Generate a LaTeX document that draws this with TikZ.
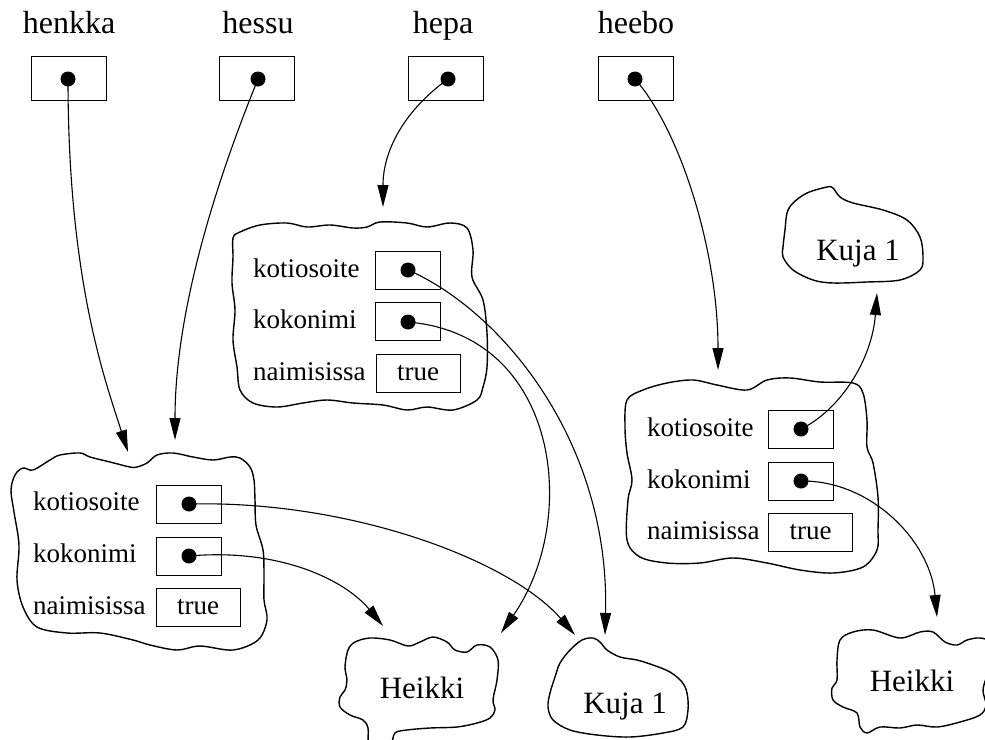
\documentclass[tikz,border=0pt]{standalone}
\usepackage{fontspec}
\setmainfont{Liberation Serif}
\usetikzlibrary{arrows.meta}
\begin{document}
\begin{tikzpicture}[x=1pt,y=-1pt,
  varname/.style={font=\fontsize{32}{36}\selectfont, anchor=base, inner sep=0pt},
  field/.style={font=\fontsize{27}{30}\selectfont, anchor=base west, inner sep=0pt},
  refbox/.style={draw, line width=1pt, minimum width=75pt, minimum height=44pt, inner sep=0pt},
  slot/.style={draw, line width=1pt, minimum width=65pt, minimum height=38pt, inner sep=0pt},
  valbox/.style={draw, line width=1pt, minimum width=84pt, minimum height=38pt, inner sep=0pt,
    font=\fontsize{27}{30}\selectfont},
  ptrdot/.style={circle, fill, inner sep=0pt, minimum size=15pt},
  blob/.style={draw, line width=1.4pt},
  blobtext/.style={font=\fontsize{31}{34}\selectfont, anchor=base, inner sep=0pt},
  ptr/.style={-{Triangle[length=22pt,width=11pt]}, line width=1.1pt},
]
\useasboundingbox (0,0) rectangle (985,739);
\begin{scope}
\clip (0,0) rectangle (985,739);

% ---------- variable names and their reference boxes ----------
\node[varname] (n-henkka) at (69,33)  {henkka};
\node[varname] (n-hessu)  at (258,33) {hessu};
\node[varname] (n-hepa)   at (443,33) {hepa};
\node[varname] (n-heebo)  at (636,33) {heebo};

\node[refbox] (b-henkka) at (68.5,78) {};
\node[refbox] (b-hessu)  at (257,78)  {};
\node[refbox] (b-hepa)   at (446,78)  {};
\node[refbox] (b-heebo)  at (635.5,78) {};

\node[ptrdot] (d-henkka) at (68,79)  {};
\node[ptrdot] (d-hessu)  at (258,79) {};
\node[ptrdot] (d-hepa)   at (448,79) {};
\node[ptrdot] (d-heebo)  at (635,79) {};

% ---------- object outlines ----------
% object shared by henkka and hessu
\draw[blob] plot[smooth cycle, tension=0.55] coordinates {
  (15,475) (23,468) (33,470) (50,460) (60,455) (80,453) (90,457) (110,462) (130,467)
  (137,467) (147,463) (157,455) (173,453) (193,457) (213,460) (230,457) (240,458)
  (250,467) (254,480) (255,500) (256,525) (263,550) (264,575) (264,600) (267,620)
  (258,640) (233,650) (200,646) (177,650) (150,645) (133,640) (100,633) (67,633)
  (37,627) (23,607) (17,580) (19,545) (14,512) (11,490)};
% object of hepa
\draw[blob] plot[smooth cycle, tension=0.55] coordinates {
  (233,238) (240,232) (260,225) (287,223) (307,227) (330,225) (353,228) (367,227)
  (380,222) (407,223) (427,227) (450,223) (467,228) (473,250) (472,277) (483,300)
  (487,333) (487,367) (483,387) (477,400) (453,410) (427,407) (407,410) (383,405)
  (353,403) (327,400) (303,403) (277,407) (253,403) (240,390) (237,367) (233,340)
  (235,310) (232,283) (233,257)};
% object of heebo
\draw[blob] plot[smooth cycle, tension=0.55] coordinates {
  (627,400) (643,390) (667,383) (693,380) (717,385) (747,390) (767,380) (790,378)
  (820,382) (853,383) (863,393) (867,420) (867,447) (873,463) (878,497) (878,530)
  (877,550) (863,567) (833,573) (800,570) (767,563) (733,558) (700,563) (667,563)
  (640,557) (627,540) (628,500) (632,480) (627,453) (625,427)};

% ---------- fields ----------
\node[field] (f1a) at (33,510)  {kotiosoite};
\node[field] (f1b) at (33,562)  {kokonimi};
\node[field] (f1c) at (33,614)  {naimisissa};
\node[slot]   (s1a) at (188.5,504) {};
\node[slot]   (s1b) at (188.5,556) {};
\node[valbox] (s1c) at (198,607)   {true};
\node[ptrdot] (d1a) at (189,504) {};
\node[ptrdot] (d1b) at (189,556) {};

\node[field] (f2a) at (253,277) {kotiosoite};
\node[field] (f2b) at (253,328) {kokonimi};
\node[field] (f2c) at (253,380) {naimisissa};
\node[slot]   (s2a) at (408,270.5) {};
\node[slot]   (s2b) at (408,321.5) {};
\node[valbox] (s2c) at (418,373)   {true};
\node[ptrdot] (d2a) at (408,270) {};
\node[ptrdot] (d2b) at (408,322) {};

\node[field] (f3a) at (647,436) {kotiosoite};
\node[field] (f3b) at (647,488) {kokonimi};
\node[field] (f3c) at (647,539) {naimisissa};
\node[slot]   (s3a) at (800.5,429) {};
\node[slot]   (s3b) at (800.5,481) {};
\node[valbox] (s3c) at (810.5,532) {true};
\node[ptrdot] (d3a) at (801,429) {};
\node[ptrdot] (d3b) at (801,481) {};

% ---------- value objects ----------
\draw[blob] plot[smooth cycle, tension=0.55] coordinates {
  (355,642) (370,638) (390,640) (408,646) (420,642) (433,637) (447,642) (455,650)
  (467,652) (477,645) (490,647) (498,660) (497,680) (493,700) (495,710) (490,718)
  (477,723) (457,727) (430,728) (407,730) (395,733) (391,745) (380,760) (369,745)
  (368,728) (363,720) (350,715) (340,707) (340,697) (345,690) (347,680) (345,667)
  (348,650)};
\node[blobtext] (v-heikki1) at (422,698) {Heikki};

\draw[blob] plot[smooth cycle, tension=0.55] coordinates {
  (560,663) (570,650) (582,640) (593,638) (600,642) (607,650) (620,657) (637,660)
  (653,665) (670,672) (682,682) (687,693) (688,710) (683,727) (663,733) (630,737)
  (597,735) (570,730) (553,720) (548,707) (550,693) (555,677)};
\node[blobtext] (v-kuja1) at (625,713) {Kuja 1};

\draw[blob] plot[smooth cycle, tension=0.55] coordinates {
  (787,213) (793,203) (807,193) (827,187) (833,188) (840,197) (853,203) (883,210)
  (907,220) (920,237) (923,257) (920,270) (900,280) (867,282) (833,283) (813,280)
  (793,270) (783,257) (783,247) (785,230)};
\node[blobtext] (v-kuja2) at (858,260) {Kuja 1};

\draw[blob] plot[smooth cycle, tension=0.55] coordinates {
  (840,640) (853,632) (873,630) (900,638) (920,632) (933,632) (945,642) (957,645)
  (967,640) (980,638) (993,643) (997,660) (988,674) (983,690) (986,705) (980,715)
  (960,722) (937,727) (917,725) (900,728) (880,727) (867,733) (860,727) (857,713)
  (843,707) (833,700) (832,688) (837,680) (837,660)};
\node[blobtext] (v-heikki2) at (912,691) {Heikki};

% ---------- arrow targets ----------
\coordinate (t-henkka) at (128,452);
\coordinate (t-hessu)  at (175,440);
\coordinate (t-hepa)   at (383,207);
\coordinate (t-heebo)  at (718,370);
\coordinate (t-1a) at (575,635);
\coordinate (t-1b) at (383,626);
\coordinate (t-2a) at (605,635);
\coordinate (t-2b) at (501,633);
\coordinate (t-3a) at (877,293);
\coordinate (t-3b) at (937,617);

% ---------- references ----------
\draw[ptr] (d-henkka.center) .. controls (68,280) and (105,380) .. (t-henkka);
\draw[ptr] (d-hessu.center)  .. controls (225,160) and (175,300) .. (t-hessu);
\draw[ptr] (d-hepa.center)   .. controls (405,110) and (383,150) .. (t-hepa);
\draw[ptr] (d-heebo.center)  .. controls (680,130) and (718,250) .. (t-heebo);

\draw[ptr] (d1a.center) .. controls (350,500) and (510,560) .. (t-1a);
\draw[ptr] (d1b.center) .. controls (280,548) and (345,580) .. (t-1b);
\draw[ptr] (d2a.center) .. controls (500,310) and (610,440) .. (t-2a);
\draw[ptr] (d2b.center) .. controls (560,335) and (580,520) .. (t-2b);
\draw[ptr] (d3a.center) .. controls (840,410) and (872,360) .. (t-3a);
\draw[ptr] (d3b.center) .. controls (870,480) and (930,540) .. (t-3b);
\end{scope}
\end{tikzpicture}
\end{document}
